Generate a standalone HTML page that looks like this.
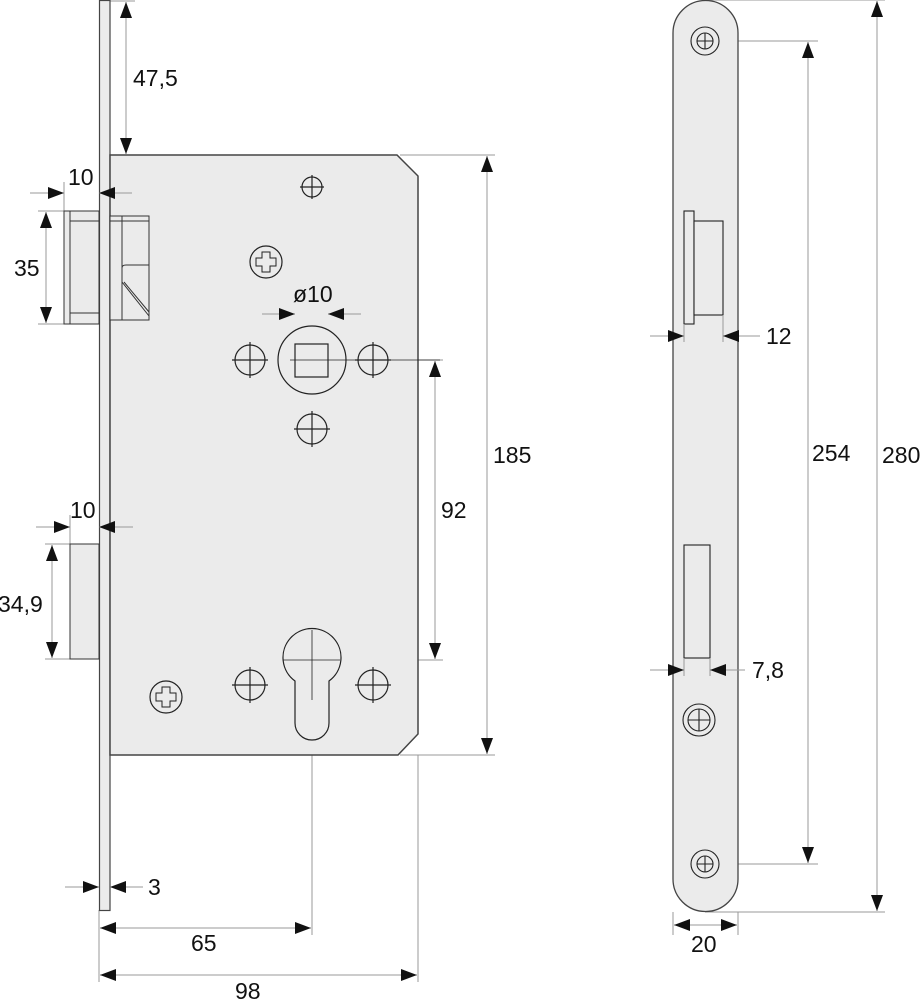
<!DOCTYPE html>
<html><head><meta charset="utf-8"><style>
html,body{margin:0;padding:0;background:#fff;}
svg{display:block;}
text{font-family:"Liberation Sans Narrow","Liberation Sans",sans-serif;font-size:23px;fill:#111;}
</style></head><body>
<svg width="922" height="1000" viewBox="0 0 922 1000" xmlns="http://www.w3.org/2000/svg">
<defs>
<marker id="a" markerUnits="userSpaceOnUse" markerWidth="16" markerHeight="12" refX="16" refY="6" orient="auto"><path d="M0,0 L16,6 L0,12 Z" fill="#111"/></marker>
<marker id="b" markerUnits="userSpaceOnUse" markerWidth="16" markerHeight="12" refX="0" refY="6" orient="auto"><path d="M16,0 L0,6 L16,12 Z" fill="#111"/></marker>
</defs>
<g fill="none" stroke="#999" stroke-width="1">
<line x1="110" y1="1" x2="135" y2="1"/>
<line x1="400" y1="155" x2="495" y2="155"/>
<line x1="400" y1="755" x2="495" y2="755"/>
<line x1="373" y1="360" x2="443" y2="360"/>
<line x1="340" y1="660" x2="443" y2="660"/>
<line x1="64" y1="182" x2="64" y2="211"/>
<line x1="70" y1="515" x2="70" y2="544"/>
<line x1="38" y1="211" x2="64" y2="211"/>
<line x1="38" y1="324" x2="64" y2="324"/>
<line x1="45" y1="544" x2="70" y2="544"/>
<line x1="45" y1="659" x2="70" y2="659"/>
<line x1="295" y1="305" x2="295" y2="344"/>
<line x1="328" y1="305" x2="328" y2="344"/>
<line x1="312" y1="625" x2="312" y2="935"/>
<line x1="99" y1="910" x2="99" y2="982"/>
<line x1="418" y1="755" x2="418" y2="982"/>
<line x1="705" y1="0" x2="885" y2="0"/>
<line x1="705" y1="41" x2="818" y2="41"/>
<line x1="705" y1="864" x2="818" y2="864"/>
<line x1="705" y1="912" x2="885" y2="912"/>
<line x1="673" y1="912" x2="673" y2="935"/>
<line x1="738" y1="912" x2="738" y2="935"/>
</g>
<rect x="99.5" y="0.5" width="10.5" height="910" fill="#ebebeb" stroke="#444" stroke-width="1.2"/>
<path d="M110,155 L397,155 L418,176 L418,734 L398,755 L110,755 Z" fill="#ebebeb" stroke="#444" stroke-width="1.5"/>
<g fill="#ebebeb" stroke="#333" stroke-width="1">
<rect x="64" y="211" width="35" height="113"/>
<line x1="70" y1="211" x2="70" y2="324"/>
<line x1="70" y1="221" x2="99" y2="221"/>
<line x1="70" y1="313" x2="99" y2="313"/>
<rect x="110" y="216" width="39" height="104"/>
<line x1="110" y1="221" x2="149" y2="221"/>
<line x1="122" y1="216" x2="122" y2="320"/>
<path d="M122,268 Q122,265 126,265 L149,265"/>
<path d="M122,282 L149,316 M124,282 L149,312"/>
<rect x="70" y="544" width="29" height="115"/>
</g>
<g fill="none" stroke="#222" stroke-width="1.2">
<circle cx="312" cy="187" r="10"/><path d="M300,187h24M312,175v24"/>
<circle cx="312" cy="360" r="34"/>
<rect x="295" y="344" width="33" height="33"/>
<line x1="290" y1="360" x2="440" y2="360" stroke-width="0.8"/>
<circle cx="250" cy="360" r="15"/><path d="M232,360h36M250,342v36"/>
<circle cx="373" cy="360" r="15"/><path d="M355,360h36M373,342v36"/>
<circle cx="312" cy="429" r="15"/><path d="M294,429h36M312,411v36"/>
<circle cx="266" cy="262" r="16"/>
<path d="M262,252h8v6h6v8h-6v6h-8v-6h-6v-8h6z" stroke-width="1"/>
<circle cx="166" cy="697" r="16"/>
<path d="M162,687h8v6h6v8h-6v6h-8v-6h-6v-8h6z" stroke-width="1"/>
<circle cx="250" cy="685" r="15"/><path d="M232,685h36M250,667v36"/>
<circle cx="373" cy="685" r="15"/><path d="M355,685h36M373,667v36"/>
<path d="M295,681 A29,29 0 1 1 329,681 L329,723 A17,17 0 0 1 295,723 Z"/>
<line x1="312" y1="630" x2="312" y2="700" stroke-width="0.8"/>
<line x1="283" y1="660" x2="340" y2="660" stroke-width="0.8"/>
</g>
<g stroke="#999" stroke-width="1" fill="none">
<line x1="126" y1="2" x2="126" y2="154" marker-start="url(#b)" marker-end="url(#a)"/>
<line x1="487" y1="156" x2="487" y2="754" marker-start="url(#b)" marker-end="url(#a)"/>
<line x1="435" y1="361" x2="435" y2="659" marker-start="url(#b)" marker-end="url(#a)"/>
<line x1="46" y1="212" x2="46" y2="323" marker-start="url(#b)" marker-end="url(#a)"/>
<line x1="52" y1="545" x2="52" y2="658" marker-start="url(#b)" marker-end="url(#a)"/>
<line x1="30" y1="193" x2="64" y2="193" marker-end="url(#a)"/>
<line x1="132" y1="193" x2="99" y2="193" marker-end="url(#a)"/>
<line x1="36" y1="527" x2="70" y2="527" marker-end="url(#a)"/>
<line x1="133" y1="527" x2="99" y2="527" marker-end="url(#a)"/>
<line x1="262" y1="314" x2="295" y2="314" marker-end="url(#a)"/>
<line x1="361" y1="314" x2="328" y2="314" marker-end="url(#a)"/>
<line x1="65" y1="887" x2="99" y2="887" marker-end="url(#a)"/>
<line x1="143" y1="887" x2="110" y2="887" marker-end="url(#a)"/>
<line x1="100" y1="928" x2="311" y2="928" marker-start="url(#b)" marker-end="url(#a)"/>
<line x1="100" y1="975" x2="417" y2="975" marker-start="url(#b)" marker-end="url(#a)"/>
<line x1="808" y1="42" x2="808" y2="863" marker-start="url(#b)" marker-end="url(#a)"/>
<line x1="877" y1="1" x2="877" y2="911" marker-start="url(#b)" marker-end="url(#a)"/>
<line x1="674" y1="925" x2="737" y2="925" marker-start="url(#b)" marker-end="url(#a)"/>
</g>
<path d="M673,33 A32.5,32.5 0 0 1 738,33 L738,879 A32.5,32.5 0 0 1 673,879 Z" fill="#ebebeb" stroke="#444" stroke-width="1.3"/>
<g fill="none" stroke="#222" stroke-width="1.1">
<circle cx="705" cy="41" r="14"/><circle cx="705" cy="41" r="8"/><path d="M697,41h16M705,33v16"/>
<circle cx="705" cy="864" r="14"/><circle cx="705" cy="864" r="8"/><path d="M697,864h16M705,856v16"/>
<circle cx="699" cy="720" r="16"/><circle cx="699" cy="720" r="11"/><path d="M688,720h22M699,709v22"/>
<rect x="684" y="211" width="10" height="113" fill="#ebebeb"/>
<rect x="694" y="221" width="29" height="94" fill="#ebebeb"/>
<rect x="684" y="545" width="26" height="113" fill="#ebebeb"/>
</g>
<g stroke="#999" stroke-width="1" fill="none">
<line x1="684" y1="324" x2="684" y2="342"/>
<line x1="723" y1="315" x2="723" y2="342"/>
<line x1="684" y1="658" x2="684" y2="676"/>
<line x1="710" y1="658" x2="710" y2="676"/>
<line x1="650" y1="336" x2="684" y2="336" marker-end="url(#a)"/>
<line x1="760" y1="336" x2="723" y2="336" marker-end="url(#a)"/>
<line x1="650" y1="670" x2="684" y2="670" marker-end="url(#a)"/>
<line x1="745" y1="670" x2="710" y2="670" marker-end="url(#a)"/>
</g>
<text x="133" y="86">47,5</text>
<text x="68" y="185">10</text>
<text x="14" y="276">35</text>
<text x="293" y="302">ø10</text>
<text x="493" y="463">185</text>
<text x="441" y="518">92</text>
<text x="70" y="518">10</text>
<text x="-2" y="612">34,9</text>
<text x="148" y="895">3</text>
<text x="191" y="951">65</text>
<text x="235" y="999">98</text>
<text x="766" y="344">12</text>
<text x="752" y="678">7,8</text>
<text x="812" y="461">254</text>
<text x="882" y="463">280</text>
<text x="691" y="952">20</text>
</svg>
</body></html>
